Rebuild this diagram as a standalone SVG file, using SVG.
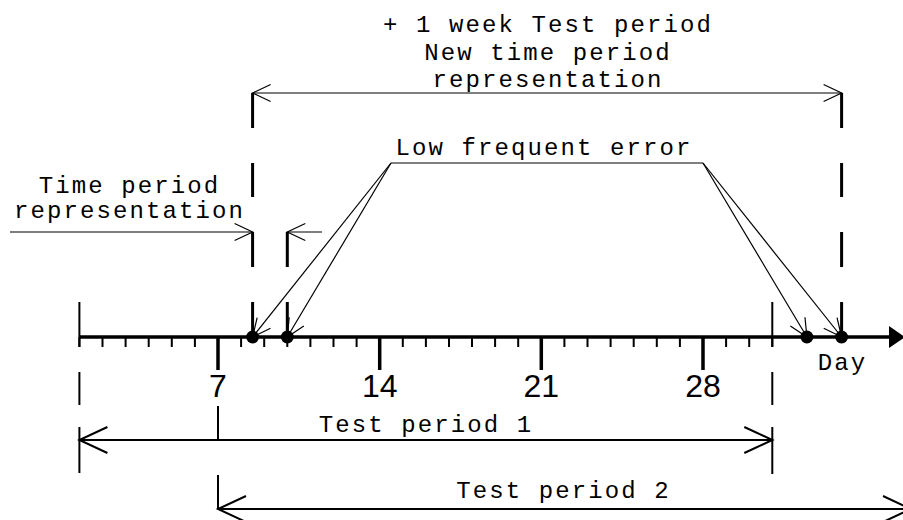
<svg xmlns="http://www.w3.org/2000/svg" width="903" height="520" viewBox="0 0 903 520">
<defs>
<style>
.mono{font-family:"Liberation Mono","Courier New",monospace;font-size:24px;letter-spacing:2.1px;fill:#000;text-anchor:middle}
.num{font-family:"Liberation Sans",Arial,sans-serif;font-size:32px;fill:#000;text-anchor:middle}
.thin{stroke:#000;stroke-width:1.2;fill:none}
.mid{stroke:#000;stroke-width:2;fill:none}
.dash{stroke:#000;stroke-width:3;fill:none}
.tick{stroke:#000;stroke-width:2;fill:none}
.big{stroke:#000;stroke-width:3.5;fill:none}
</style>
<marker id="oa" viewBox="-20 -10 22 20" markerWidth="22" markerHeight="20" refX="0" refY="0" orient="auto-start-reverse" markerUnits="userSpaceOnUse" overflow="visible">
<path d="M-18,-8.5 L0,0 L-18,8.5" fill="none" stroke="#000" stroke-width="1.2"/>
</marker>
<marker id="ob" viewBox="-30 -15 32 30" markerWidth="32" markerHeight="30" refX="0" refY="0" orient="auto-start-reverse" markerUnits="userSpaceOnUse" overflow="visible">
<path d="M-28,-13 L0,0 L-28,13" fill="none" stroke="#000" stroke-width="2"/>
</marker>
</defs>
<rect width="903" height="520" fill="#fff"/>

<g id="axis">
<line x1="79.4" y1="337" x2="892" y2="337" stroke="#000" stroke-width="3.5"/>
<polygon points="889,326 905,337 889,348" fill="#000"/>
<g class="tick">
<path d="M79.4,337V347M102.5,337V347M125.6,337V347M148.7,337V347M171.8,337V347M194.9,337V347M241.1,337V347M264.2,337V347M287.3,337V347M310.4,337V347M333.5,337V347M356.6,337V347M402.8,337V347M425.9,337V347M449,337V347M472,337V347M495.1,337V347M518.2,337V347M564.4,337V347M587.5,337V347M610.6,337V347M633.7,337V347M656.8,337V347M679.9,337V347M726.1,337V347M749.2,337V347M772.3,337V347"/>
</g>
<path class="big" d="M218,337V370M379.7,337V370M541.3,337V370M703,337V370"/>
<text class="num" x="218" y="397">7</text>
<text class="num" x="379.7" y="397">14</text>
<text class="num" x="541.3" y="397">21</text>
<text class="num" x="703" y="397">28</text>
<text class="mono" x="842.5" y="370">Day</text>
</g>

<g id="boundaries">
<path class="tick" d="M79.4,302V347M79.4,372V405M79.4,427V473"/>
<path class="tick" d="M772.3,302V347M772.3,372V405M772.3,427V474"/>
<path class="dash" d="M252.6,93V128M252.6,163V197M252.6,232V267M252.6,302V337"/>
<path class="dash" d="M287.3,232V267M287.3,302V337"/>
<path class="dash" d="M841.6,93V128M841.6,163V197M841.6,232V267M841.6,302V337"/>
<path class="tick" d="M218,406V440M218,475V509"/>
</g>

<g id="events">
<circle cx="252.6" cy="337" r="6.5" fill="#000"/>
<circle cx="287.3" cy="337" r="6.5" fill="#000"/>
<circle cx="806.9" cy="337" r="6.5" fill="#000"/>
<circle cx="841.6" cy="337" r="6.5" fill="#000"/>
</g>

<g id="new-period">
<text class="mono" x="548" y="32">+ 1 week Test period</text>
<text class="mono" x="548" y="59.5">New time period</text>
<text class="mono" x="548" y="87">representation</text>
</g>

<g id="time-period">
<text class="mono" x="129.5" y="193">Time period</text>
<text class="mono" x="129.5" y="218">representation</text>
</g>

<g id="error">
<text class="mono" x="544" y="155">Low frequent error</text>
<line class="thin" x1="391" y1="163" x2="703" y2="163"/>
</g>

<g id="test1">
<text class="mono" x="426" y="432">Test period 1</text>
</g>
<g id="test2">
<text class="mono" x="563.5" y="498">Test period 2</text>
</g>

<g id="connectors">
<line class="thin" x1="252.6" y1="93" x2="841.6" y2="93" marker-start="url(#oa)" marker-end="url(#oa)"/>
<line class="thin" x1="10" y1="232" x2="252.6" y2="232" marker-end="url(#oa)"/>
<line class="thin" x1="322" y1="232" x2="287.3" y2="232" marker-end="url(#oa)"/>
<line class="thin" x1="391" y1="163" x2="252.6" y2="337" marker-end="url(#oa)"/>
<line class="thin" x1="391" y1="163" x2="287.3" y2="337" marker-end="url(#oa)"/>
<line class="thin" x1="703" y1="163" x2="806.9" y2="337" marker-end="url(#oa)"/>
<line class="thin" x1="703" y1="163" x2="841.6" y2="337" marker-end="url(#oa)"/>
<line class="mid" x1="79.4" y1="440" x2="772.3" y2="440" marker-start="url(#ob)" marker-end="url(#ob)"/>
<line class="mid" x1="218" y1="509" x2="911" y2="509" marker-start="url(#ob)" marker-end="url(#ob)"/>
</g>
</svg>
